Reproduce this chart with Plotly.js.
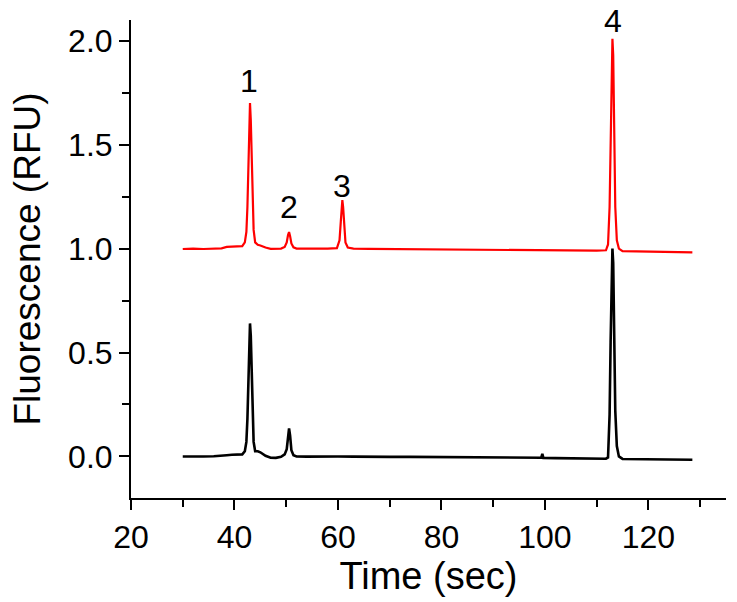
<!DOCTYPE html>
<html>
<head>
<meta charset="utf-8">
<script src="https://cdn.plot.ly/plotly-3.0.1.min.js"></script>
<style>html,body{margin:0;padding:0;background:#fff;}#chart{width:737px;height:602px;}</style>
</head>
<body>
<div id="chart"></div>
<script>
// Red trace (upper electropherogram)
const redTime = [30,32,34,36,37.5,38.5,39.5,40.5,41.5,42.0,42.3,42.5,42.7,42.85,43.0,43.15,43.3,43.5,43.7,44.0,44.5,45,45.5,46,47,48,49,49.7,50.1,50.35,50.55,50.75,51,51.4,52,54,56,58,59.8,60.3,60.55,60.75,60.85,61.0,61.2,61.45,61.9,63,66,70,74,78,82,86,90,94,98,102,106,110,111.8,112.2,112.5,112.7,112.9,113.05,113.2,113.4,113.6,113.9,114.3,115,117,120,123,126,128.5];
const redSignal = [0.998,1.0,0.998,1.0,1.001,1.008,1.01,1.009,1.012,1.03,1.08,1.2,1.45,1.62,1.70,1.62,1.45,1.22,1.09,1.03,1.018,1.015,1.01,1.005,0.999,0.998,1.0,1.008,1.03,1.065,1.08,1.06,1.025,1.006,1.0,1.0,0.999,1.0,1.002,1.04,1.13,1.21,1.233,1.2,1.1,1.03,1.005,1.0,0.999,0.998,0.997,0.996,0.996,0.995,0.994,0.993,0.992,0.991,0.99,0.99,0.992,1.02,1.2,1.55,1.9,2.01,1.93,1.6,1.2,1.04,1.0,0.988,0.987,0.985,0.984,0.983,0.982];

// Black trace (lower electropherogram)
const blackTime = [30,32,34,36,37.5,38.5,39.5,40.5,41.5,42.0,42.3,42.5,42.7,42.85,43.0,43.15,43.3,43.5,43.7,44.0,44.5,45,45.5,46,47,48,49,49.7,50.1,50.35,50.55,50.75,51,51.4,52,54,56,58,60,63,66,70,74,78,82,86,90,94,98,99.3,99.5,99.7,102,106,110,111.8,112.2,112.5,112.7,112.9,113.05,113.2,113.4,113.6,113.9,114.3,115,117,120,123,126,128.5];
const blackSignal = [0.0,-0.001,0.0,0.001,0.002,0.006,0.008,0.009,0.01,0.025,0.07,0.18,0.42,0.58,0.64,0.58,0.42,0.2,0.07,0.025,0.025,0.02,0.012,0.003,-0.006,-0.007,-0.002,0.01,0.035,0.1,0.135,0.1,0.03,0.006,0.0,-0.001,0.0,0.001,0.0,-0.001,0.0,-0.002,-0.002,-0.003,-0.003,-0.004,-0.005,-0.006,-0.007,-0.006,0.012,-0.007,-0.008,-0.009,-0.01,-0.011,-0.005,0.2,0.55,0.9,1.0,0.93,0.6,0.22,0.05,0.0,-0.012,-0.013,-0.014,-0.015,-0.016,-0.016];

// Peak labels
const peakLabels = ['1','2','3','4'];
const peakLabelX = [42.85, 50.5, 60.8, 113.1];
const peakLabelY = [1.806, 1.202, 1.303, 2.095];

const xTickVals = [20,40,60,80,100,120];
const yTickVals = [0.0,0.5,1.0,1.5,2.0];
const yTickText = ['0.0','0.5','1.0','1.5','2.0'];

const font = 'Liberation Sans, Arial, Helvetica, sans-serif';

const traces = [
  {x: blackTime, y: blackSignal, type: 'scatter', mode: 'lines',
   line: {color: '#000000', width: 2.6}, hoverinfo: 'skip', showlegend: false},
  {x: redTime, y: redSignal, type: 'scatter', mode: 'lines',
   line: {color: '#ff0000', width: 2.2}, hoverinfo: 'skip', showlegend: false}
];

const annotations = peakLabels.map((t, i) => ({
  x: peakLabelX[i], y: peakLabelY[i], xref: 'x', yref: 'y', text: t,
  showarrow: false, xanchor: 'center', yanchor: 'middle',
  font: {family: font, size: 32, color: '#000'}
}));

const layout = {
  width: 737, height: 602,
  margin: {l: 131, r: 11, t: 20, b: 104},
  paper_bgcolor: '#fff', plot_bgcolor: '#fff',
  showlegend: false,
  font: {family: font, color: '#000'},
  xaxis: {
    range: [20, 135], showgrid: false, zeroline: false,
    showline: true, linecolor: '#000', linewidth: 2,
    ticks: 'outside', ticklen: 10, tickwidth: 2, tickcolor: '#000',
    tickvals: xTickVals,
    tickfont: {family: font, size: 32, color: '#000'},
    minor: {dtick: 10, tick0: 0, ticks: 'outside', ticklen: 7, tickwidth: 2, tickcolor: '#000', showgrid: false},
    title: {text: 'Time (sec)', font: {family: font, size: 38, color: '#000'}, standoff: 8}
  },
  yaxis: {
    range: [-0.2, 2.1], showgrid: false, zeroline: false,
    showline: true, linecolor: '#000', linewidth: 2,
    ticks: 'outside', ticklen: 10, tickwidth: 2, tickcolor: '#000',
    tickvals: yTickVals, ticktext: yTickText,
    tickfont: {family: font, size: 32, color: '#000'},
    minor: {dtick: 0.25, tick0: 0, ticks: 'outside', ticklen: 7, tickwidth: 2, tickcolor: '#000', showgrid: false},
    title: {text: 'Fluorescence (RFU)', font: {family: font, size: 37, color: '#000'}, standoff: 16}
  },
  annotations: annotations
};

Plotly.newPlot('chart', traces, layout, {displayModeBar: false, staticPlot: true});
</script>
</body>
</html>
